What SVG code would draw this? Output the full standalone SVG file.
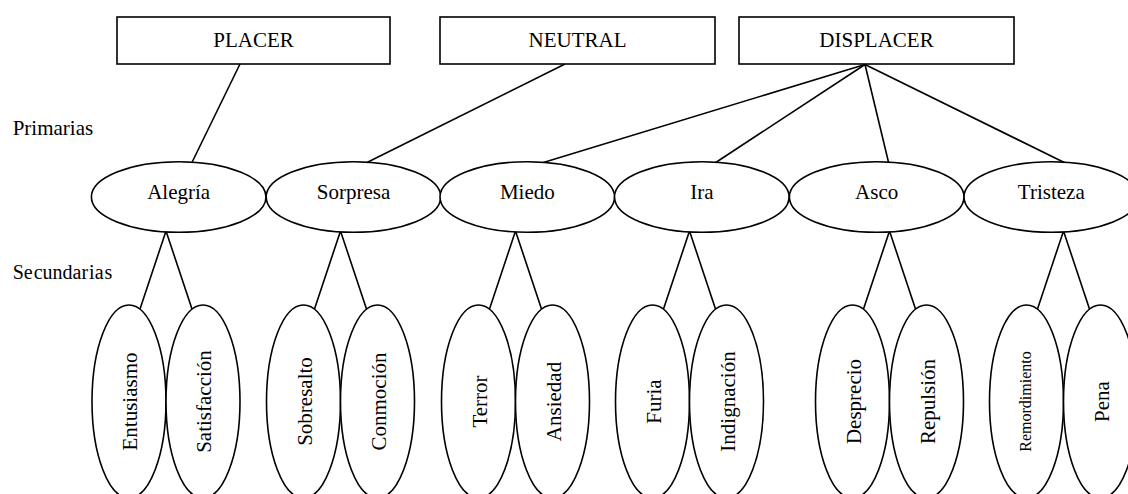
<svg xmlns="http://www.w3.org/2000/svg" width="1128" height="494" viewBox="0 0 1128 494">
  <style>
    text { font-family: "Liberation Serif", "Times New Roman", serif; font-size: 21px; fill: #000; }
    .c { text-anchor: middle; }
    .box { fill: #fff; stroke: #000; stroke-width: 1.6; }
    .node { fill: #fff; stroke: #000; stroke-width: 1.6; }
    .edge { stroke: #000; stroke-width: 1.6; fill: none; }
    .small { font-size: 16px; }
  </style>
  <rect width="1128" height="494" fill="#fff"/>

  <!-- level labels -->
  <text id="lbl-primarias" x="12.7" y="135">Primarias</text>
  <text id="lbl-secundarias" x="12.7" y="279.3" style="font-size:20px">Se<tspan dx="1">cundar</tspan><tspan dx="1">ia</tspan><tspan dx="1">s</tspan></text>

  <!-- connectors -->
  <g id="connectors" class="edge">
    <!-- top categories to primary emotions -->
    <line x1="240" y1="64" x2="191.7" y2="163"/>
    <line x1="565" y1="64" x2="366" y2="163"/>
    <line x1="865" y1="64.5" x2="541.7" y2="163"/>
    <line x1="865" y1="64.5" x2="715" y2="163"/>
    <line x1="865" y1="64.5" x2="888.7" y2="163"/>
    <line x1="865" y1="64.5" x2="1065.3" y2="163"/>
    <!-- primary to secondary emotions -->
    <path d="M139,312 L166,231 L193,312"/>
    <path d="M313.5,312 L340.5,231 L367.5,312"/>
    <path d="M488.5,312 L515.5,231 L542.5,312"/>
    <path d="M662.5,312 L689.5,231 L716.5,312"/>
    <path d="M862.5,312 L889.5,231 L916.5,312"/>
    <path d="M1036.5,312 L1063.5,231 L1090.5,312"/>
  </g>

  <!-- valence categories -->
  <g id="placer">
    <rect class="box" x="117" y="17" width="273" height="47"/>
    <text class="c" x="253.5" y="47">PLACER</text>
  </g>
  <g id="neutral">
    <rect class="box" x="440" y="17" width="275" height="47"/>
    <text class="c" x="577.5" y="47">NEUTRAL</text>
  </g>
  <g id="displacer">
    <rect class="box" x="739" y="17" width="275" height="47"/>
    <text class="c" x="876.5" y="47">DISPLACER</text>
  </g>

  <!-- primary emotions -->
  <g id="alegria">
    <ellipse class="node" cx="178.7" cy="197" rx="87.3" ry="35.3"/>
    <text class="c" x="178.7" y="199.3">Alegría</text>
  </g>
  <g id="sorpresa">
    <ellipse class="node" cx="353.5" cy="197" rx="87.3" ry="35.3"/>
    <text class="c" x="353.5" y="199.3">Sorpresa</text>
  </g>
  <g id="miedo">
    <ellipse class="node" cx="527.3" cy="197" rx="87.3" ry="35.3"/>
    <text class="c" x="527.3" y="199.3">Miedo</text>
  </g>
  <g id="ira">
    <ellipse class="node" cx="701.8" cy="197" rx="87.3" ry="35.3"/>
    <text class="c" x="701.8" y="199.3">Ira</text>
  </g>
  <g id="asco">
    <ellipse class="node" cx="876.7" cy="197" rx="87.3" ry="35.3"/>
    <text class="c" x="876.7" y="199.3">Asco</text>
  </g>
  <g id="tristeza">
    <ellipse class="node" cx="1051.3" cy="197" rx="87.3" ry="35.3"/>
    <text class="c" x="1051.3" y="199.3">Tristeza</text>
  </g>

  <!-- secondary emotions (vertical labels) -->
  <g id="entusiasmo">
    <ellipse class="node" cx="129" cy="401.5" rx="37" ry="96.5"/>
    <text class="c" transform="translate(137,401.5) rotate(-90)">Entusiasmo</text>
  </g>
  <g id="satisfaccion">
    <ellipse class="node" cx="203" cy="401.5" rx="37" ry="96.5"/>
    <text class="c" transform="translate(211,401.5) rotate(-90)">Satisfacción</text>
  </g>
  <g id="sobresalto">
    <ellipse class="node" cx="303.5" cy="401.5" rx="37" ry="96.5"/>
    <text class="c" transform="translate(311.5,401.5) rotate(-90)">Sobresalto</text>
  </g>
  <g id="conmocion">
    <ellipse class="node" cx="377.5" cy="401.5" rx="37" ry="96.5"/>
    <text class="c" transform="translate(385.5,401.5) rotate(-90)">Conmoción</text>
  </g>
  <g id="terror">
    <ellipse class="node" cx="478.5" cy="401.5" rx="37" ry="96.5"/>
    <text class="c" transform="translate(486.5,401.5) rotate(-90)">Terror</text>
  </g>
  <g id="ansiedad">
    <ellipse class="node" cx="552.5" cy="401.5" rx="37" ry="96.5"/>
    <text class="c" transform="translate(560.5,401.5) rotate(-90)">Ansiedad</text>
  </g>
  <g id="furia">
    <ellipse class="node" cx="652.5" cy="401.5" rx="37" ry="96.5"/>
    <text class="c" transform="translate(660.5,401.5) rotate(-90)">Furia</text>
  </g>
  <g id="indignacion">
    <ellipse class="node" cx="726.5" cy="401.5" rx="37" ry="96.5"/>
    <text class="c" transform="translate(734.5,401.5) rotate(-90)">Indignación</text>
  </g>
  <g id="desprecio">
    <ellipse class="node" cx="852.5" cy="401.5" rx="37" ry="96.5"/>
    <text class="c" transform="translate(860.5,401.5) rotate(-90)">Desprecio</text>
  </g>
  <g id="repulsion">
    <ellipse class="node" cx="926.5" cy="401.5" rx="37" ry="96.5"/>
    <text class="c" transform="translate(934.5,401.5) rotate(-90)">Repulsión</text>
  </g>
  <g id="remordimiento">
    <ellipse class="node" cx="1026.5" cy="401.5" rx="37" ry="96.5"/>
    <text class="c small" transform="translate(1030.5,401.5) rotate(-90)">Remordimiento</text>
  </g>
  <g id="pena">
    <ellipse class="node" cx="1100.5" cy="401.5" rx="37" ry="96.5"/>
    <text class="c" transform="translate(1108.5,401.5) rotate(-90)">Pena</text>
  </g>
</svg>
